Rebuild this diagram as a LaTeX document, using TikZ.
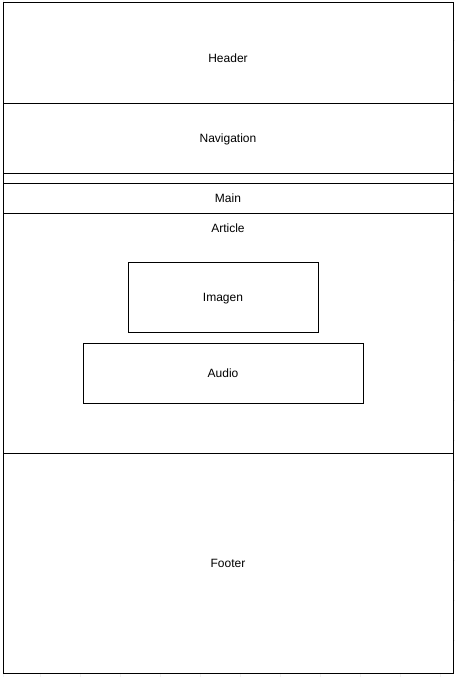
\documentclass[tikz,border=0pt]{standalone}
\usepackage{fontspec}
\setmainfont{Liberation Sans}
\begin{document}
\begin{tikzpicture}[x=1pt,y=-1pt,
  box/.style={draw=black,fill=white,line width=1pt,inner sep=0pt},
  lbl/.style={font=\fontsize{12}{14}\selectfont,inner sep=0pt,text height=8.6pt,text depth=0pt,anchor=center}]
\useasboundingbox (0,0) rectangle (455,677);
\fill[white] (0,0) rectangle (455,677);
\draw[black!6,line width=0.6pt] (3,3) grid[step=40pt] (455,677);
\draw[black!6,line width=0.6pt] (3,0) -- (3,677);
% frames
\path[box] (3,3) rectangle (453,103);
\node[lbl] (header) at (228,58.5) {Header};
\path[box] (3,103) rectangle (453,173);
\node[lbl] (nav) at (228,138.5) {Navigation};
\path[box] (3,173) rectangle (453,183);
\coordinate (strip) at (228,178);
\path[box] (3,183) rectangle (453,213);
\node[lbl] (main) at (228,198.5) {Main};
\path[box] (3,213) rectangle (453,453);
\node[lbl] (article) at (228,228.5) {Article};
\path[box] (128,262) rectangle (318,332);
\node[lbl] (imagen) at (223,297.5) {Imagen};
\path[box] (83,343) rectangle (363,403);
\node[lbl] (audio) at (223,373.5) {Audio};
\path[box] (3,453) rectangle (453,673);
\node[lbl] (footer) at (228,563.5) {Footer};
\end{tikzpicture}
\end{document}
